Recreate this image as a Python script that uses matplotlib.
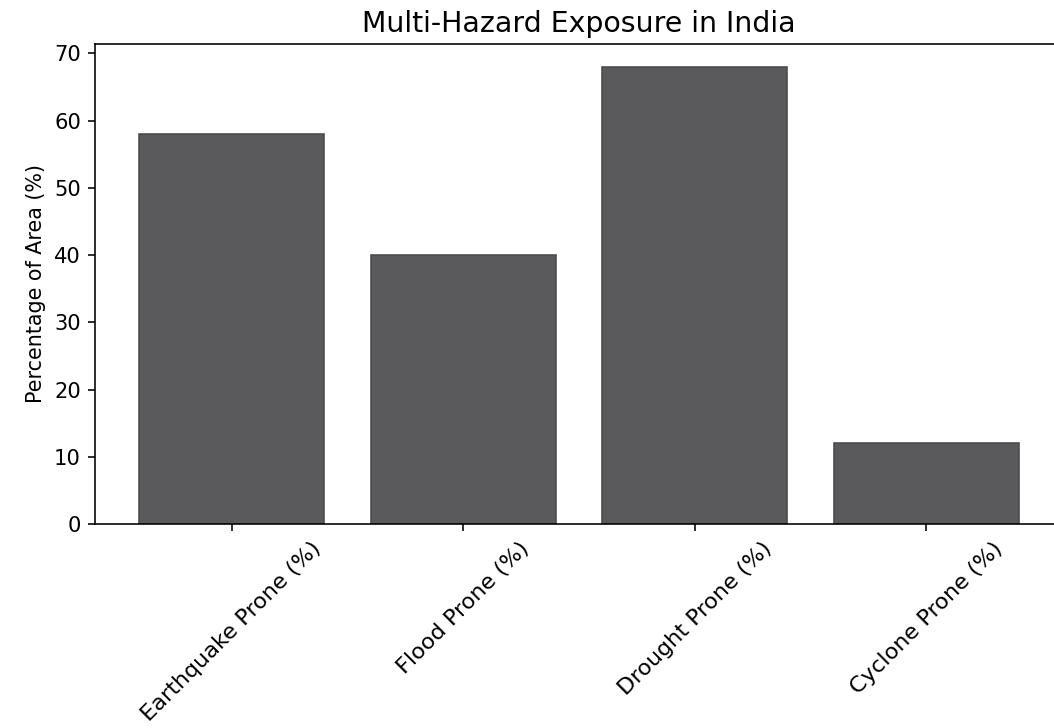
import matplotlib
matplotlib.use("Agg")
import matplotlib.pyplot as plt

# hazard categories and share of area (%)
hazards = ["Earthquake Prone (%)", "Flood Prone (%)", "Drought Prone (%)", "Cyclone Prone (%)"]
area_pct = [58, 40, 68, 12]

dpi = 144
fig = plt.figure(figsize=(1054 / dpi, 728 / dpi), dpi=dpi)
# the reference is cropped on the right, so the axes run past the figure edge
ax = fig.add_axes([0.0901, 0.2802, 0.9184, 0.6594])

ax.bar(hazards, area_pct, color="#5a5a5c", edgecolor="#4b4b4d", linewidth=0.8, width=0.8)

ax.set_title("Multi-Hazard Exposure in India", fontsize=14.2)
ax.set_ylabel("Percentage of Area (%)", fontsize=10.3)
ax.set_yticks([0, 10, 20, 30, 40, 50, 60, 70])
ax.tick_params(axis="y", labelsize=10.5)
ax.tick_params(axis="x", labelsize=11.2)
plt.setp(ax.get_xticklabels(), rotation=45, ha="center")

fig.savefig("out.png", dpi=dpi)
